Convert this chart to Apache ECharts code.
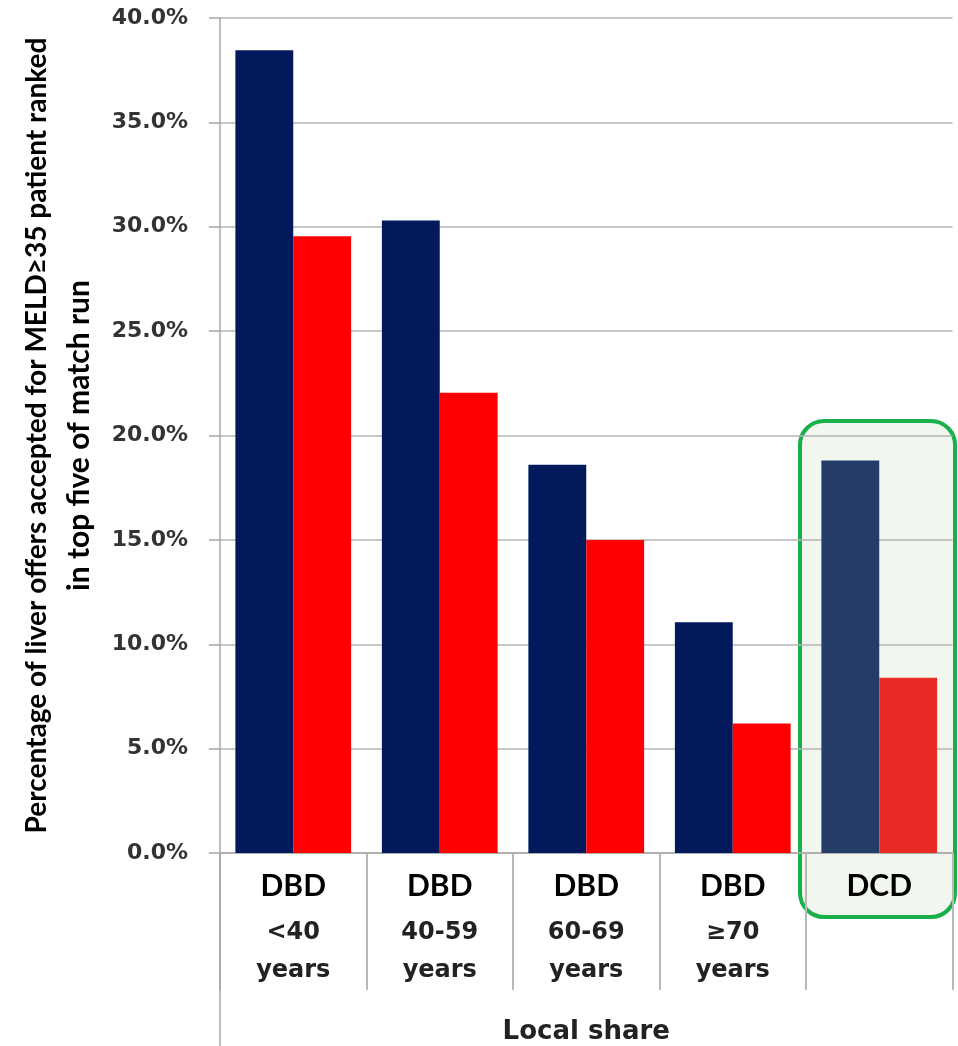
<!DOCTYPE html>
<html>
<head>
<meta charset="utf-8">
<script src="https://cdn.jsdelivr.net/npm/echarts@6/dist/echarts.min.js"></script>
<style>
  html, body { margin: 0; padding: 0; background: #ffffff; }
  #chart { width: 958px; height: 1046px; }
</style>
</head>
<body>
<div id="chart"></div>
<script>
// Donor groups along the x axis (type + age band)
const donorTypes = ['DBD', 'DBD', 'DBD', 'DBD', 'DCD'];
const ageBands = ['<40\nyears', '40-59\nyears', '60-69\nyears', '\u226570\nyears', ''];

// Acceptance percentages, two bars per group
const seriesA = [38.45, 30.3, 18.6, 11.05, 18.8];
const seriesB = [29.55, 22.05, 15.0, 6.2, 8.4];

// Y axis tick range
const yMin = 0, yMax = 40, yStep = 5;

// Y axis title, two lines
const yTitle = ['Percentage of liver offers accepted for MELD\u226535 patient ranked', 'in top five of match run'];

const navy = '#021a5c', red = '#fe0000';
const navyDcd = '#253c69', redDcd = '#ea2b25';

const categories = donorTypes.map((t, i) => t + '|' + ageBands[i]);

function styled(values, base, dcd) {
  return values.map((v, i) => ({
    value: v,
    itemStyle: { color: donorTypes[i] === 'DCD' ? dcd : base }
  }));
}

const chart = echarts.init(document.getElementById('chart'), null, { renderer: 'canvas' });

chart.setOption({
  backgroundColor: '#ffffff',
  animation: false,
  grid: { left: 220, right: 5.5, top: 18, bottom: 193, containLabel: false, outerBoundsMode: 'none' },
  xAxis: {
    type: 'category',
    data: categories,
    boundaryGap: true,
    axisLine: { show: true, lineStyle: { color: '#a8a8a8', width: 1.5 } },
    axisTick: { show: true, interval: 0, length: 137, lineStyle: { color: '#b8b8b8', width: 2 } },
    axisLabel: {
      interval: 0,
      margin: 5,
      formatter: function (val) {
        const parts = val.split('|');
        const rows = ['{t|' + parts[0] + '}'];
        if (parts[1]) parts[1].split('\n').forEach(s => rows.push('{a|' + s + '}'));
        return rows.join('\n');
      },
      rich: {
        t: { fontFamily: 'Lato', fontWeight: 'bold', fontSize: 30, color: '#000000', lineHeight: 56 },
        a: { fontFamily: 'DejaVu Sans', fontWeight: 'bold', fontSize: 24, color: '#222222', lineHeight: 38 }
      }
    },
    name: 'Local share',
    nameLocation: 'middle',
    nameGap: 166,
    nameTextStyle: { fontFamily: 'DejaVu Sans', fontWeight: 'bold', fontSize: 26, color: '#222222' }
  },
  yAxis: {
    type: 'value',
    min: yMin,
    max: yMax,
    interval: yStep,
    axisLine: { show: true, lineStyle: { color: '#a8a8a8', width: 1.5 } },
    axisTick: { show: true, length: 11, lineStyle: { color: '#a8a8a8', width: 1.5 } },
    splitLine: { show: true, lineStyle: { color: '#b5b5b5', width: 1.5 } },
    axisLabel: {
      margin: 32,
      formatter: v => v.toFixed(1) + '%',
      fontFamily: 'DejaVu Sans', fontWeight: 'bold', fontSize: 22, color: '#333333'
    },
    name: '{l1|' + yTitle[0] + '}\n{l2|' + yTitle[1] + '}',
    nameLocation: 'middle',
    nameRotate: 90,
    nameGap: 120,
    nameTextStyle: {
      rich: {
        l1: { fontFamily: 'Lato', fontWeight: 'bold', fontSize: 28, color: '#000000', lineHeight: 42 },
        l2: { fontFamily: 'Lato', fontWeight: 'bold', fontSize: 30, color: '#000000', lineHeight: 42 }
      }
    }
  },
  graphic: [
    {
      type: 'rect',
      z: -10,
      shape: { x: 800, y: 421, width: 155, height: 496, r: 24 },
      style: { fill: '#f1f6ee', stroke: '#17b04b', lineWidth: 4 }
    },
    {
      type: 'line',
      z: 5,
      shape: { x1: 220, y1: 853, x2: 220, y2: 1046 },
      style: { stroke: '#a8a8a8', lineWidth: 1.5 }
    }
  ],
  series: [
    {
      type: 'bar',
      data: styled(seriesA, navy, navyDcd),
      barGap: '0%',
      barCategoryGap: '21%'
    },
    {
      type: 'bar',
      data: styled(seriesB, red, redDcd),
      barGap: '0%',
      barCategoryGap: '21%'
    }
  ]
});
</script>
</body>
</html>
